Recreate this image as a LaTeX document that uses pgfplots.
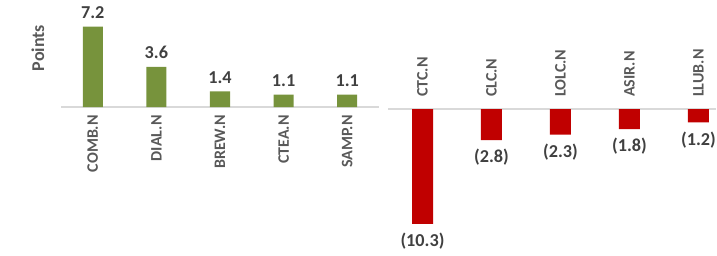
\documentclass[border=0pt]{standalone}
\usepackage{fontspec}
\setmainfont{Carlito}[BoldFont={Carlito Bold}]
\usepackage{pgfplots}
\pgfplotsset{compat=1.18}
\definecolor{grn}{HTML}{77933C}
\definecolor{rd}{HTML}{C00000}
\definecolor{valgray}{HTML}{404040}
\definecolor{lblgray}{HTML}{595959}
\definecolor{axisgray}{HTML}{D9D9D9}
\begin{document}
\begin{tikzpicture}[x=1pt,y=1pt]
\useasboundingbox (0,0) rectangle (717,255);
\begin{axis}[
  at={(61pt,148pt)}, anchor=south west,
  scale only axis, width=318pt, height=105.9pt,
  xmin=-0.5, xmax=4.5, ymin=0, ymax=9.5,
  axis x line*=bottom, axis y line=none,
  x axis line style={draw=axisgray, line width=1.5pt, -},
  xtick=data, xticklabels={COMB.N,DIAL.N,BREW.N,CTEA.N,SAMP.N},
  major tick length=0pt,
  xticklabel style={rotate=90, anchor=east, font=\fontsize{16}{16}\selectfont\bfseries, text=lblgray, inner xsep=8pt, inner ysep=0pt},
  ybar, bar width=20pt,
  nodes near coords, point meta=explicit symbolic,
  every node near coord/.append style={font=\fontsize{18.2}{18.2}\selectfont\bfseries, text=valgray, anchor=south, inner sep=0pt, yshift=8pt},
  clip=false,
]
\addplot[fill=grn, draw=none] table[x=x,y=y,meta=lab] {
x y lab
0 7.2 7.2
1 3.6 3.6
2 1.4 1.4
3 1.1 1.1
4 1.1 1.1
};
\end{axis}
\begin{axis}[
  at={(388pt,23.35pt)}, anchor=south west,
  scale only axis, width=328.4pt, height=122.65pt,
  xmin=-0.5, xmax=4.26, ymin=-11, ymax=0,
  axis x line*=top, axis y line=none,
  x axis line style={draw=axisgray, line width=1.5pt, -},
  xtick=data, xticklabels={CTC.N,CLC.N,LOLC.N,ASIR.N,LLUB.N},
  xticklabel pos=upper,
  major tick length=0pt,
  xticklabel style={rotate=90, anchor=west, font=\fontsize{16}{16}\selectfont\bfseries, text=lblgray, inner xsep=12pt, inner ysep=0pt},
  ybar, bar width=21pt,
  nodes near coords, point meta=explicit symbolic,
  every node near coord/.append style={font=\fontsize{18.2}{18.2}\selectfont\bfseries, text=valgray, anchor=north, inner sep=0pt, yshift=-9pt},
  clip=false,
]
\addplot[fill=rd, draw=none] table[x=x,y=y,meta=lab] {
x y lab
0 -10.3 (10.3)
1 -2.8 (2.8)
2 -2.3 (2.3)
3 -1.8 (1.8)
4 -1.2 (1.2)
};
\end{axis}
\node[rotate=90, font=\fontsize{18}{18}\selectfont\bfseries, text=lblgray] at (38,207) {Points};
\end{tikzpicture}
\end{document}
